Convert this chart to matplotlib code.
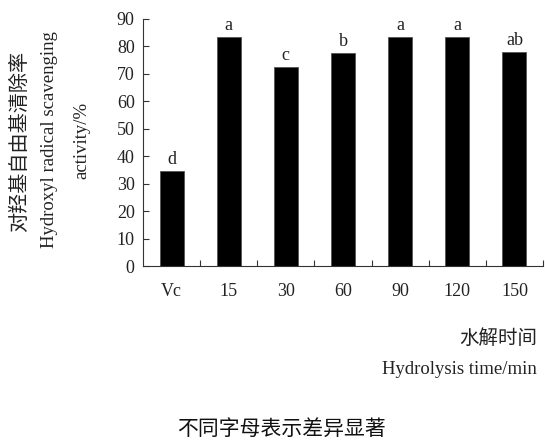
import numpy as np
import matplotlib.pyplot as plt

# hydroxyl radical scavenging activity vs hydrolysis time
groups = ['Vc', '15', '30', '60', '90', '120', '150']
activity = [34.7, 83.4, 72.5, 77.4, 83.2, 83.2, 78.0]
letters = ['d', 'a', 'c', 'b', 'a', 'a', 'ab']

serif = 'Liberation Serif'
cjk = 'Noto Sans CJK SC'

fig = plt.figure(figsize=(5.45, 4.41), dpi=100)
ax = fig.add_axes([0.2624, 0.3957, 0.7339, 0.5623])

x = np.arange(len(groups))
bars = ax.bar(x, activity, 0.42, color='black', edgecolor='#555555', linewidth=0.6)

for xi, v, s in zip(x, activity, letters):
    ax.annotate(s, (xi, v), xytext=(0, 2), textcoords='offset points',
                ha='center', va='bottom', fontsize=13, family=serif,
                color='#222222')

ax.set_xlim(-0.5, 6.5)
ax.set_ylim(0, 90)
ax.set_yticks(np.arange(0, 91, 10))
ax.set_xticks(x)
ax.set_xticklabels(groups)
ax.set_xticks(np.arange(0.5, 7, 1), minor=True)

for sp in ['top', 'right']:
    ax.spines[sp].set_visible(False)
for sp in ['left', 'bottom']:
    ax.spines[sp].set_linewidth(0.8)
    ax.spines[sp].set_color('#333333')

ax.tick_params(axis='y', direction='in', length=4, width=0.8, pad=6,
               labelsize=13, colors='#333333', labelcolor='#222222')
ax.tick_params(axis='x', which='major', length=0, pad=12, labelsize=13,
               labelcolor='#222222')
ax.tick_params(axis='x', which='minor', direction='in', length=4, width=0.8,
               colors='#333333')
for lab in ax.get_xticklabels() + ax.get_yticklabels():
    lab.set_family(serif)

# axis titles
fig.text(20 / 545, 1 - 141 / 441, '对羟基自由基清除率', rotation=90, ha='center',
         va='center', fontsize=14.5, family=cjk, color='#222222')
fig.text(50 / 545, 1 - 140 / 441, 'Hydroxyl radical scavenging', rotation=90,
         ha='center', va='center', fontsize=13.5, family=serif, color='#222222')
fig.text(82 / 545, 1 - 140 / 441, 'activity/%', rotation=90, ha='center',
         va='center', fontsize=13.5, family=serif, color='#222222')

fig.text(537 / 545, 1 - 338 / 441, '水解时间', ha='right', va='center',
         fontsize=14, family=cjk, color='#222222')
fig.text(537 / 545, 1 - 369 / 441, 'Hydrolysis time/min', ha='right',
         va='center', fontsize=13.5, family=serif, color='#222222')

fig.text(281 / 545, 1 - 429 / 441, '不同字母表示差异显著', ha='center', va='center',
         fontsize=15, family=cjk, color='#111111')

fig.savefig('out.png', dpi=100)
